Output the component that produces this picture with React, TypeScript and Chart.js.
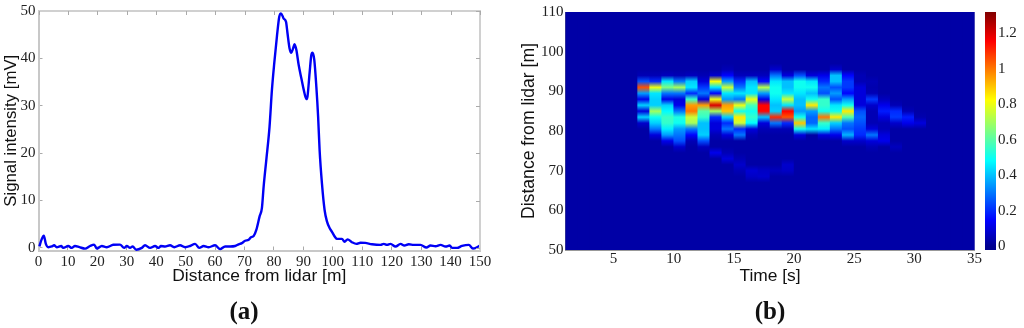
import React, { useEffect, useRef } from "react";
import { Chart, registerables } from "chart.js";

Chart.register(...registerables);

// Panel (a)
const distances = [0.3,1,1.8,2.5,3.3,4.5,5.3,6.2,7.7,8.4,10.1,11.3,12.4,13.9,15.8,17.5,18.9,19.8,21.5,23.2,25.4,27.7,29.1,30,31.1,32,33.2,35.1,36.2,37.9,39.6,40.8,41.6,43,44.7,46.1,48.1,49.8,51.5,53.2,54.6,56.1,57.8,60,61.7,63.4,65.1,66.8,68,69.1,70.2,71.4,72.2,73.1,74,75.1,75.9,76.5,77.4,78.5,79.3,80.1,81,81.8,82.4,83.3,84.1,84.6,85.3,85.9,86.5,87,87.6,88.4,89.3,90.1,91,91.4,92.1,92.7,93.1,93.7,94.4,95,95.5,96.3,97.2,98,98.9,99.7,100.8,101.4,103.1,104,105,106.5,108,109.4,111,113.3,116.2,117.3,118.4,119.6,121.3,123,124.3,125.8,127.5,129.8,131.8,133.2,134.9,136.6,138.3,139.7,140.5,142.2,143.9,146.2,147.6,148.8,150];
const intensity = [0.3,1.7,2.6,0.85,0.15,0.3,0.55,0.15,0.4,0,0.4,0,0.4,0.15,-0.15,0.4,0.7,-0.15,0.4,0.15,0.65,0.7,0,0.4,0,0.3,-0.4,0,0.55,0,0.4,0,0.4,0.3,0.55,0.15,0.55,0.15,0.4,0.85,0,0.4,0.15,0.55,-0.25,0.3,0.3,0.4,0.75,1,1.5,1.7,2.25,2.5,3.8,6.6,8.4,13,18.6,25.6,33.3,39,44.6,48.8,49.5,48.4,47.7,45.3,42.1,41.2,42.1,43,41.8,38.6,35.8,33.4,31.4,32,36.9,40.7,41.2,39.7,34,27.7,20.7,13.6,8,5.6,4.2,3.4,2.25,1.9,1.9,1.3,1.8,1.2,0.85,1.1,1.05,0.77,0.63,0.85,0.63,0.85,0.28,0.85,0.5,0.77,0.63,0.63,0.07,0.5,0.35,0.63,0.28,0.5,0,0,0.42,0.63,-0.14,0.07,0.5];
const distanceTicks = [0,10,20,30,40,50,60,70,80,90,100,110,120,130,140,150];
const intensityTicks = [0,10,20,30,40,50];

// Panel (b)
const timeCentres = [1.5,2.5,3.5,4.5,5.5,6.5,7.5,8.5,9.5,10.5,11.5,12.5,13.5,14.5,15.5,16.5,17.5,18.5,19.5,20.5,21.5,22.5,23.5,24.5,25.5,26.5,27.5,28.5,29.5,30.5,31.5,32.5,33.5,34.5];
const timeTicks = [5,10,15,20,25,30,35];
const rangeTicks = [50,60,70,80,90,100,110];
const colorbarTicks = [0,0.2,0.4,0.6,0.8,1,1.2];
const B = 0.03;
const rowDistances = [97,95.5,94,92.5,91,89.5,88,86.5,85,83.5,82,80.5,79,77.5,76,74.5,73,71.5,70,68.5,67];
const rowFlat = [B,B,B,B,B,B,B,B,B,B,B,B,B,B,B,B,B,B,B,B,B,B,B,B,B,B,B,B,B,B,B,B,B,B];
const row955 = [B,B,B,B,B,B,B,B,B,B,B,B,B,.05,B,B,B,.08,B,B,B,B,.08,B,B,B,B,B,B,B,B,B,B,B];
const row94 = [B,B,B,B,B,B,.05,.05,.06,.05,.06,.05,.08,.15,.06,.06,.06,.3,.1,.25,.1,.12,.4,.15,.05,B,B,B,B,B,B,B,B,B];
const row925 = [B,B,B,B,B,B,.25,.2,.45,.3,.42,.1,.82,.35,.2,.4,.15,.45,.4,.5,.45,.2,.4,.22,.05,.05,B,B,B,B,B,B,B,B];
const row91 = [B,B,B,B,B,B,1.05,.8,.65,.7,.45,.22,.45,.75,.3,.45,.72,.5,.4,.5,.5,.3,.25,.22,.1,.04,B,B,B,B,B,B,B,B];
const row895 = [B,B,B,B,B,B,.35,.45,.3,.3,.2,.3,.15,.45,.45,.45,.35,.5,.45,.45,.4,.25,.35,.15,.1,.05,B,B,B,B,B,B,B,B];
const row88 = [B,B,B,B,B,B,.12,.42,.12,.1,.55,.1,.8,.35,.3,.8,.12,.45,.75,.4,.5,.55,.25,.35,.1,.22,.06,B,B,B,B,B,B,B];
const row865 = [B,B,B,B,B,B,.42,.42,.42,.12,.95,.95,1.2,.95,.8,.58,1.15,.4,.45,.4,.85,.55,.45,.5,.1,.08,.12,.05,B,B,B,B,B,B];
const row85 = [B,B,B,B,B,B,.1,.7,.48,.3,1,.6,.7,.9,.5,.5,1.15,.42,1.15,.35,.35,.5,.5,.85,.25,.05,.18,.2,.05,B,B,B,B,B];
const row835 = [B,B,B,B,B,B,.42,.5,.56,.52,.75,.55,.2,.42,.85,.55,.4,1.1,1.05,.5,.28,1,.85,.58,.28,.05,.1,.22,.18,.04,B,B,B,B];
const row82 = [B,B,B,B,B,B,.08,.42,.55,.5,.7,.4,.1,.2,.75,.48,.1,.3,.2,.9,.28,.55,.42,.3,.25,.05,.05,.08,.12,.1,B,B,B,B];
const row805 = [B,B,B,B,B,B,B,.3,.46,.35,.3,.4,.1,.3,.2,.1,.05,.05,.05,.5,.45,.46,.3,.25,.22,.1,.05,B,B,B,B,B,B,B];
const row79 = [B,B,B,B,B,B,B,.1,.35,.3,.15,.42,.05,.1,.3,.05,B,B,B,.1,B,.1,.12,.38,.2,.3,.1,B,B,B,B,B,B,B];
const row775 = [B,B,B,B,B,B,B,B,.12,.25,.05,.25,B,B,B,B,B,B,B,B,B,B,B,.08,.08,.1,.12,B,B,B,B,B,B,B];
const row76 = [B,B,B,B,B,B,B,B,B,.08,B,.06,B,B,B,B,B,B,B,B,B,B,B,B,B,.05,B,.06,B,B,B,B,B,B];
const row745 = [B,B,B,B,B,B,B,B,B,B,B,B,.12,.05,B,B,B,B,B,B,B,B,B,B,B,B,B,B,B,B,B,B,B,B];
const row73 = [B,B,B,B,B,B,B,B,B,B,B,B,B,.1,.05,B,B,B,B,B,B,B,B,B,B,B,B,B,B,B,B,B,B,B];
const row715 = [B,B,B,B,B,B,B,B,B,B,B,B,B,B,.08,B,B,B,.08,B,B,B,B,B,B,B,B,B,B,B,B,B,B,B];
const row70 = [B,B,B,B,B,B,B,B,B,B,B,B,B,B,.05,.09,.07,.06,.07,B,B,B,B,B,B,B,B,B,B,B,B,B,B,B];
const row685 = [B,B,B,B,B,B,B,B,B,B,B,B,B,B,B,.07,.08,B,B,B,B,B,B,B,B,B,B,B,B,B,B,B,B,B];
const rows = [rowFlat,row955,row94,row925,row91,row895,row88,row865,row85,row835,row82,row805,row79,row775,row76,row745,row73,row715,row70,row685,rowFlat];
const Z_MAX = 1.318;
const jetAnchors: [number, number[]][] = [
  [0,[0,0,143]],[0.111,[0,0,255]],[0.365,[0,255,255]],[0.625,[255,255,0]],[0.875,[255,0,0]],[1,[128,0,0]],
];

function jet(value: number) {
  const t = Math.max(0, Math.min(1, value / Z_MAX));
  for (let i = 1; i < jetAnchors.length; i++) {
    const [t0, c0] = jetAnchors[i - 1];
    const [t1, c1] = jetAnchors[i];
    if (t <= t1) {
      const f = (t - t0) / (t1 - t0);
      const c = c0.map((v, k) => Math.round(v + (c1[k] - v) * f));
      return `rgb(${c[0]},${c[1]},${c[2]})`;
    }
  }
  return "rgb(128,0,0)";
}

const serif = "'Liberation Serif'";
const sans = "'Liberation Sans'";
const tickFont = { family: serif, size: 15 };
const titleFontX = { family: sans, size: 17.4 };
const titleFontY = { family: sans, size: 16.8 };
const titleFontHeat = { family: sans, size: 17.6 };

function setTicks(values: number[]) {
  return (s: any) => { s.ticks = values.map((value) => ({ value })); };
}

function noPadding(s: any) {
  s.paddingTop = 0; s.paddingBottom = 0; s.paddingLeft = 0; s.paddingRight = 0;
}

const mirrorTicks = {
  id: "mirrorTicks",
  afterDraw(chart: any) {
    const { ctx, chartArea: a, scales } = chart;
    ctx.save();
    ctx.strokeStyle = "#d0d0d0";
    ctx.lineWidth = 2;
    ctx.beginPath();
    ctx.moveTo(a.left, a.top); ctx.lineTo(a.right, a.top); ctx.lineTo(a.right, a.bottom);
    ctx.stroke();
    ctx.strokeStyle = "#aaa";
    ctx.lineWidth = 1;
    ctx.beginPath();
    for (const t of scales.x.ticks) {
      const p = Math.round(scales.x.getPixelForValue(t.value)) + 0.5;
      ctx.moveTo(p, a.top); ctx.lineTo(p, a.top + 4);
    }
    for (const t of scales.y.ticks) {
      const p = Math.round(scales.y.getPixelForValue(t.value)) + 0.5;
      ctx.moveTo(a.right, p); ctx.lineTo(a.right - 4, p);
    }
    ctx.stroke();
    ctx.restore();
  },
};

const heatBackdrop = {
  id: "heatBackdrop",
  beforeDatasetsDraw(chart: any) {
    const { ctx, chartArea: a } = chart;
    ctx.save();
    ctx.fillStyle = "rgb(0,0,130)";
    ctx.fillRect(a.left, a.top, a.right - a.left, a.bottom - a.top);
    ctx.restore();
  },
};

function makeLeft(canvas: HTMLCanvasElement) {
  return new Chart(canvas, {
    type: "line",
    data: {
      datasets: [{
        data: distances.map((x, i) => ({ x, y: intensity[i] })),
        borderColor: "#0000f5",
        borderWidth: 2.4,
        pointRadius: 0,
        cubicInterpolationMode: "monotone",
        clip: false,
      }],
    },
    options: {
      animation: false, responsive: false,
      layout: { autoPadding: false, padding: { top: 11, right: 40, bottom: 41.5, left: 0 } },
      plugins: { legend: { display: false }, tooltip: { enabled: false } },
      scales: {
        x: {
          type: "linear", min: 0, max: 150,
          afterBuildTicks: setTicks(distanceTicks),
          afterFit: (s: any) => { s.height = 36; noPadding(s); },
          border: { color: "#c8c8c8", width: 2 },
          grid: { drawOnChartArea: false, tickLength: -4, color: "#aaa" },
          ticks: { font: tickFont, color: "#222", padding: 7, maxRotation: 0, autoSkip: false },
          title: { display: true, text: "Distance from lidar [m]", font: titleFontX, color: "#111", padding: 0 },
        },
        y: {
          type: "linear", min: -0.55, max: 50,
          afterBuildTicks: setTicks(intensityTicks),
          afterFit: (s: any) => { s.width = 38.5; noPadding(s); },
          border: { color: "#c8c8c8", width: 2 },
          grid: { drawOnChartArea: false, tickLength: -4, color: "#aaa" },
          ticks: { font: tickFont, color: "#222", padding: 7 },
          title: { display: true, text: "Signal intensity [mV]", font: titleFontY, color: "#111", padding: { top: 1, bottom: 0 } },
        },
      },
    },
    plugins: [mirrorTicks],
  } as any);
}

function columnGradient(ctx: any) {
  const i = ctx.dataIndex;
  const { chart } = ctx;
  const y = chart.scales.y;
  const top = y ? y.getPixelForValue(110) : NaN;
  const bottom = y ? y.getPixelForValue(50) : NaN;
  if (i === undefined || !Number.isFinite(top) || !Number.isFinite(bottom)) return "rgb(0,0,160)";
  const g = chart.ctx.createLinearGradient(0, top, 0, bottom);
  g.addColorStop(0, jet(B));
  rowDistances.forEach((d, r) => {
    g.addColorStop((110 - d) / 60, jet(rows[r][i]));
  });
  g.addColorStop(1, jet(B));
  return g;
}

function makeHeat(canvas: HTMLCanvasElement) {
  return new Chart(canvas, {
    type: "bar",
    data: {
      datasets: [{
        data: timeCentres.map((x) => ({ x, y: [50, 110] })),
        backgroundColor: columnGradient,
        borderWidth: 0,
        barPercentage: 1,
        categoryPercentage: 1,
      }],
    },
    options: {
      animation: false, responsive: false,
      layout: { autoPadding: false, padding: { top: 12, right: 15.5, bottom: 41.5, left: 0 } },
      plugins: { legend: { display: false }, tooltip: { enabled: false } },
      scales: {
        x: {
          type: "linear", min: 1, max: 35, offset: false,
          afterBuildTicks: setTicks(timeTicks),
          afterFit: (s: any) => { s.height = 36.5; noPadding(s); },
          border: { color: "#999", width: 1 },
          grid: { drawOnChartArea: false, drawTicks: false, offset: false },
          ticks: { font: tickFont, color: "#222", padding: 0, maxRotation: 0, autoSkip: false },
          title: { display: true, text: "Time [s]", font: titleFontX, color: "#111", padding: 0 },
        },
        y: {
          type: "linear", min: 50, max: 110,
          afterBuildTicks: setTicks(rangeTicks),
          afterFit: (s: any) => { s.width = 47.5; noPadding(s); },
          border: { color: "#999", width: 1 },
          grid: { drawOnChartArea: false, drawTicks: false },
          ticks: { font: tickFont, color: "#222", padding: 2 },
          title: { display: true, text: "Distance from lidar [m]", font: titleFontHeat, color: "#111", padding: { top: 1, bottom: 0 } },
        },
      },
    },
    plugins: [heatBackdrop],
  } as any);
}

function barGradient(ctx: any) {
  const { chart } = ctx;
  const y = chart.scales.y;
  const bottom = y ? y.getPixelForValue(0) : NaN;
  const top = y ? y.getPixelForValue(Z_MAX) : NaN;
  if (!Number.isFinite(top) || !Number.isFinite(bottom)) return "rgb(0,0,143)";
  const g = chart.ctx.createLinearGradient(0, bottom, 0, top);
  jetAnchors.forEach(([t, c]) => g.addColorStop(t, `rgb(${c[0]},${c[1]},${c[2]})`));
  return g;
}

function makeColorbar(canvas: HTMLCanvasElement) {
  return new Chart(canvas, {
    type: "bar",
    data: {
      labels: ["z"],
      datasets: [{
        data: [[-0.02, Z_MAX]],
        backgroundColor: barGradient,
        borderWidth: 0,
        barPercentage: 1,
        categoryPercentage: 1,
      }],
    },
    options: {
      animation: false, responsive: false,
      layout: { autoPadding: false, padding: { top: 12, right: 0, bottom: 78, left: 0 } },
      plugins: { legend: { display: false }, tooltip: { enabled: false } },
      scales: {
        x: { display: false },
        y: {
          position: "right",
          type: "linear", min: -0.02, max: Z_MAX,
          afterBuildTicks: setTicks(colorbarTicks),
          afterFit: (s: any) => { s.width = 28; noPadding(s); },
          border: { display: false },
          grid: { drawOnChartArea: false, tickLength: -3, color: "#777" },
          ticks: { font: tickFont, color: "#222", padding: 5, callback: (v: any) => String(v) },
        },
      },
    },
  } as any);
}

const caption: React.CSSProperties = {
  position: "absolute", top: 296, width: 60, textAlign: "center",
  fontFamily: "'Liberation Serif'", fontWeight: "bold", fontSize: 25, lineHeight: "30px", color: "#111",
};

export default function App() {
  const a = useRef<HTMLCanvasElement>(null);
  const b = useRef<HTMLCanvasElement>(null);
  const c = useRef<HTMLCanvasElement>(null);
  useEffect(() => {
    const charts = [makeLeft(a.current!), makeHeat(b.current!), makeColorbar(c.current!)];
    return () => charts.forEach((ch) => ch.destroy());
  }, []);
  return (
    <div style={{ position: "absolute", left: 0, top: 0, width: 1024, height: 328, overflow: "hidden", background: "#fff" }}>
      <canvas ref={a} width={520} height={328} style={{ position: "absolute", left: 0, top: 0, width: 520, height: 328 }} />
      <canvas ref={b} width={472} height={328} style={{ position: "absolute", left: 518, top: 0, width: 472, height: 328 }} />
      <canvas ref={c} width={39} height={328} style={{ position: "absolute", left: 985, top: 0, width: 39, height: 328 }} />
      <div style={{ ...caption, left: 214 }}>(a)</div>
      <div style={{ ...caption, left: 740 }}>(b)</div>
    </div>
  );
}
